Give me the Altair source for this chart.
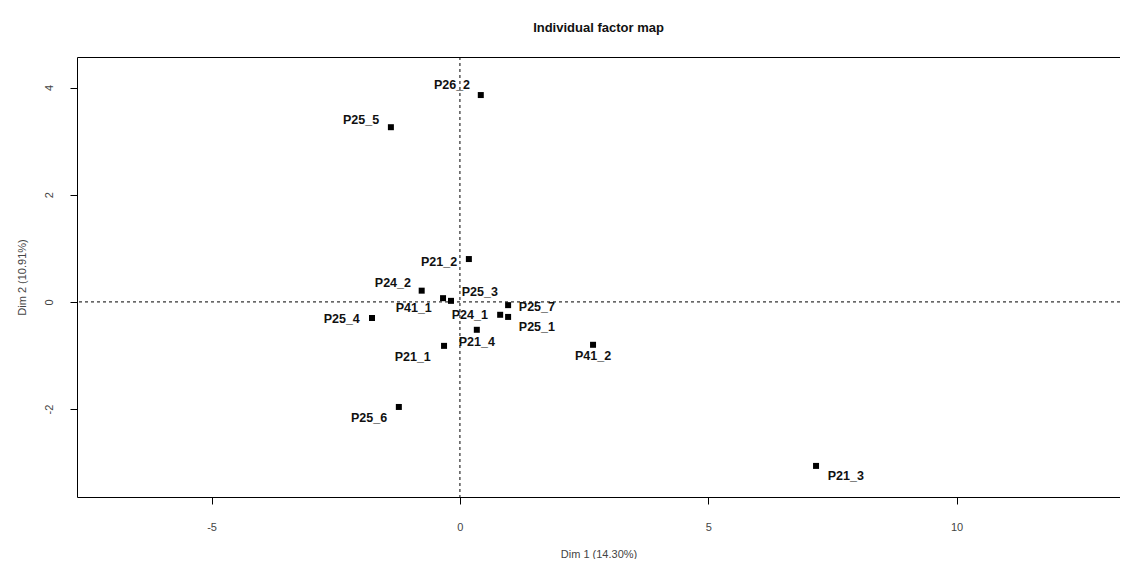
import altair as alt
import pandas as pd

labels = ["P26_2", "P25_5", "P21_2", "P24_2", "P41_1", "P25_3", "P25_7", "P24_1",
          "P25_1", "P25_4", "P21_4", "P21_1", "P41_2", "P25_6", "P21_3"]
dim1 = [0.42, -1.39, 0.18, -0.77, -0.34, -0.18, 0.97, 0.81,
        0.97, -1.77, 0.34, -0.32, 2.68, -1.23, 7.17]
dim2 = [3.86, 3.26, 0.80, 0.21, 0.07, 0.02, -0.06, -0.24,
        -0.28, -0.30, -0.52, -0.82, -0.80, -1.96, -3.06]
# label anchor positions (data units)
lab_x = [-0.16, -1.99, -0.42, -1.35, -0.93, 0.40, 1.55, 0.20,
         1.55, -2.38, 0.34, -0.95, 2.68, -1.83, 7.77]
lab_y = [4.05, 3.40, 0.75, 0.35, -0.11, 0.19, -0.09, -0.24,
         -0.47, -0.32, -0.75, -1.03, -1.01, -2.16, -3.25]

x_domain = [-7.71, 13.29]
y_domain = [-3.64, 4.57]
x_ticks = [-5, 0, 5, 10]
y_ticks = [-2, 0, 2, 4]

df = pd.DataFrame({"label": labels, "x": dim1, "y": dim2, "lx": lab_x, "ly": lab_y})
zero = pd.DataFrame({"z": [0]})

FONT = "Liberation Sans"

xs = alt.Scale(domain=x_domain, nice=False, zero=False)
ys = alt.Scale(domain=y_domain, nice=False, zero=False)

xaxis = alt.Axis(values=x_ticks, title="Dim 1 (14.30%)", domain=False, grid=False,
                 tickSize=7, tickColor="black", labelPadding=17, labelFontSize=11,
                 labelExpr="'' + datum.value",
                 labelColor="#444", titleFontSize=11, titleFontWeight="normal",
                 titleColor="#444", titlePadding=16, labelFont=FONT, titleFont=FONT)
yaxis = alt.Axis(values=y_ticks, title="Dim 2 (10.91%)", domain=False, grid=False,
                 tickSize=7, tickColor="black", labelAngle=-90, labelAlign="center",
                 labelBaseline="bottom", labelPadding=16, labelFontSize=11,
                 labelExpr="'' + datum.value",
                 labelColor="#444", titleFontSize=11, titleFontWeight="normal",
                 titleColor="#444", titlePadding=16, labelFont=FONT, titleFont=FONT)

pts = alt.Chart(df).mark_square(size=36, color="black", opacity=1).encode(
    x=alt.X("x:Q", scale=xs, axis=xaxis),
    y=alt.Y("y:Q", scale=ys, axis=yaxis),
)
txt = alt.Chart(df).mark_text(fontSize=12.5, fontWeight="bold", font=FONT,
                              color="#111").encode(
    x=alt.X("lx:Q", scale=xs),
    y=alt.Y("ly:Q", scale=ys),
    text="label:N",
)
vline = alt.Chart(zero).mark_rule(color="black", strokeDash=[3, 3], strokeWidth=1).encode(
    x=alt.X("z:Q", scale=xs)
)
hline = alt.Chart(zero).mark_rule(color="black", strokeDash=[3, 3], strokeWidth=1).encode(
    y=alt.Y("z:Q", scale=ys)
)

chart = alt.layer(vline, hline, pts, txt).properties(
    width=1043, height=440,
    title=alt.TitleParams("Individual factor map", fontSize=13, fontWeight="bold",
                          font=FONT, color="#111", offset=22, anchor="middle"),
    autosize=alt.AutoSizeParams(type="none"),
    padding={"left": 69, "top": 49, "right": 0, "bottom": 62},
).configure(background="white").configure_view(stroke="black", strokeWidth=1)

chart.save("out.html", embed_options={"renderer": "svg", "actions": False})
